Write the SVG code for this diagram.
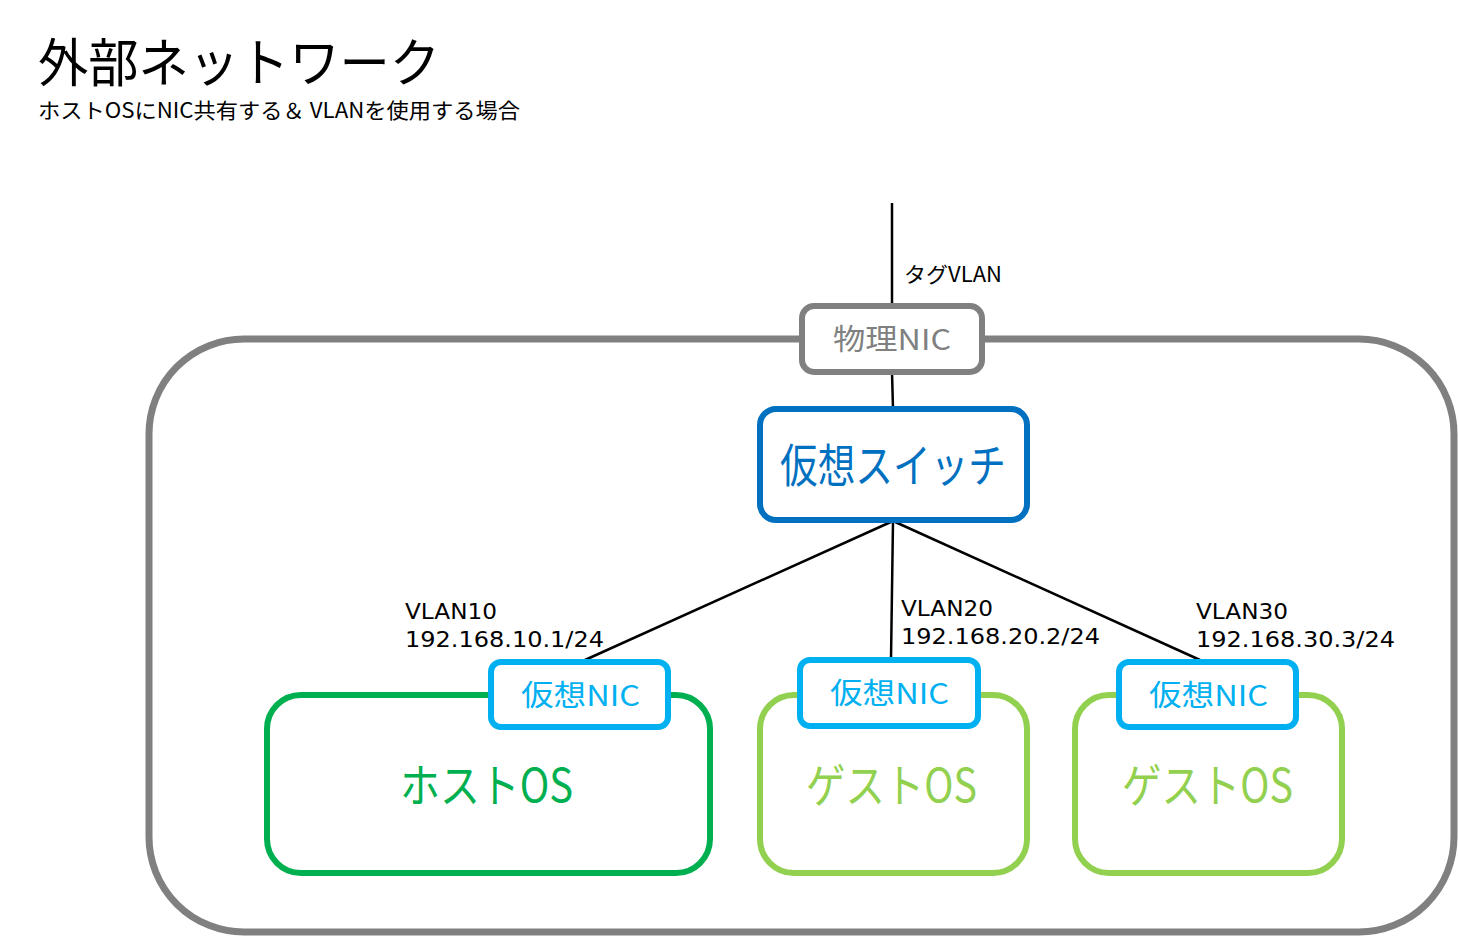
<svg xmlns="http://www.w3.org/2000/svg" width="1458" height="936" viewBox="0 0 1458 936">
<style>
text{font-family:"Noto Sans CJK JP","Noto Sans",sans-serif}
.lat{font-family:"DejaVu Sans","Noto Sans",sans-serif}
.lbl{font-size:21px;fill:#000}
.box{fill:#fff;stroke-width:6}
.conn{stroke:#000;stroke-width:2.5;fill:none}
</style>
<rect width="1458" height="936" fill="#fff"/>
<g id="title">
<text x="38" y="82" font-size="52" textLength="402" lengthAdjust="spacingAndGlyphs">外部ネットワーク</text>
<text x="38" y="118" font-size="21" textLength="482" lengthAdjust="spacingAndGlyphs">ホストOSにNIC共有する＆ VLANを使用する場合</text>
</g>
<g id="host-machine">
<rect x="149" y="339" width="1305" height="593" rx="95" ry="95" fill="none" stroke="#808080" stroke-width="7"/>
</g>
<g id="connectors">
<line class="conn" x1="892" y1="203" x2="892" y2="306"/>
<line class="conn" x1="892" y1="372" x2="893" y2="409"/>
<line class="conn" x1="893" y1="521" x2="585" y2="660"/>
<line class="conn" x1="893" y1="521" x2="891" y2="659"/>
<line class="conn" x1="893" y1="521" x2="1200" y2="660"/>
<text class="lbl" x="904" y="282" textLength="98" lengthAdjust="spacingAndGlyphs">タグVLAN</text>
<text class="lbl lat" x="405" y="619" textLength="92" lengthAdjust="spacingAndGlyphs">VLAN10</text>
<text class="lbl lat" x="405" y="647" textLength="199" lengthAdjust="spacingAndGlyphs">192.168.10.1/24</text>
<text class="lbl lat" x="901" y="616" textLength="92" lengthAdjust="spacingAndGlyphs">VLAN20</text>
<text class="lbl lat" x="901" y="644" textLength="199" lengthAdjust="spacingAndGlyphs">192.168.20.2/24</text>
<text class="lbl lat" x="1196" y="619" textLength="92" lengthAdjust="spacingAndGlyphs">VLAN30</text>
<text class="lbl lat" x="1196" y="647" textLength="199" lengthAdjust="spacingAndGlyphs">192.168.30.3/24</text>
</g>
<g id="physical-nic">
<rect class="box" x="802" y="306" width="180" height="66" rx="12" stroke="#808080"/>
<text x="833" y="350" font-size="29" fill="#808080" textLength="118" lengthAdjust="spacingAndGlyphs">物理NIC</text>
</g>
<g id="virtual-switch">
<rect class="box" x="760" y="409" width="267" height="111" rx="16" stroke="#0070C0"/>
<text x="780" y="482" font-size="46" fill="#0070C0" textLength="226" lengthAdjust="spacingAndGlyphs">仮想スイッチ</text>
</g>
<g id="host-os">
<rect class="box" x="267" y="695" width="443" height="178" rx="34" stroke="#00B050"/>
<text x="400" y="802" font-size="46" fill="#00B050" textLength="173" lengthAdjust="spacingAndGlyphs">ホストOS</text>
</g>
<g id="guest-os-1">
<rect class="box" x="760" y="695" width="267" height="178" rx="34" stroke="#92D050"/>
<text x="806" y="802" font-size="46" fill="#92D050" textLength="171" lengthAdjust="spacingAndGlyphs">ゲストOS</text>
</g>
<g id="guest-os-2">
<rect class="box" x="1075" y="695" width="267" height="178" rx="34" stroke="#92D050"/>
<text x="1122" y="802" font-size="46" fill="#92D050" textLength="171" lengthAdjust="spacingAndGlyphs">ゲストOS</text>
</g>
<g id="vnic-1">
<rect class="box" x="491" y="662" width="177" height="65" rx="10" stroke="#00B0F0"/>
<text x="521" y="706" font-size="29" fill="#00B0F0" textLength="119" lengthAdjust="spacingAndGlyphs">仮想NIC</text>
</g>
<g id="vnic-2">
<rect class="box" x="800" y="660" width="178" height="66" rx="10" stroke="#00B0F0"/>
<text x="830" y="704" font-size="29" fill="#00B0F0" textLength="119" lengthAdjust="spacingAndGlyphs">仮想NIC</text>
</g>
<g id="vnic-3">
<rect class="box" x="1119" y="662" width="177" height="65" rx="10" stroke="#00B0F0"/>
<text x="1149" y="706" font-size="29" fill="#00B0F0" textLength="119" lengthAdjust="spacingAndGlyphs">仮想NIC</text>
</g>
</svg>
